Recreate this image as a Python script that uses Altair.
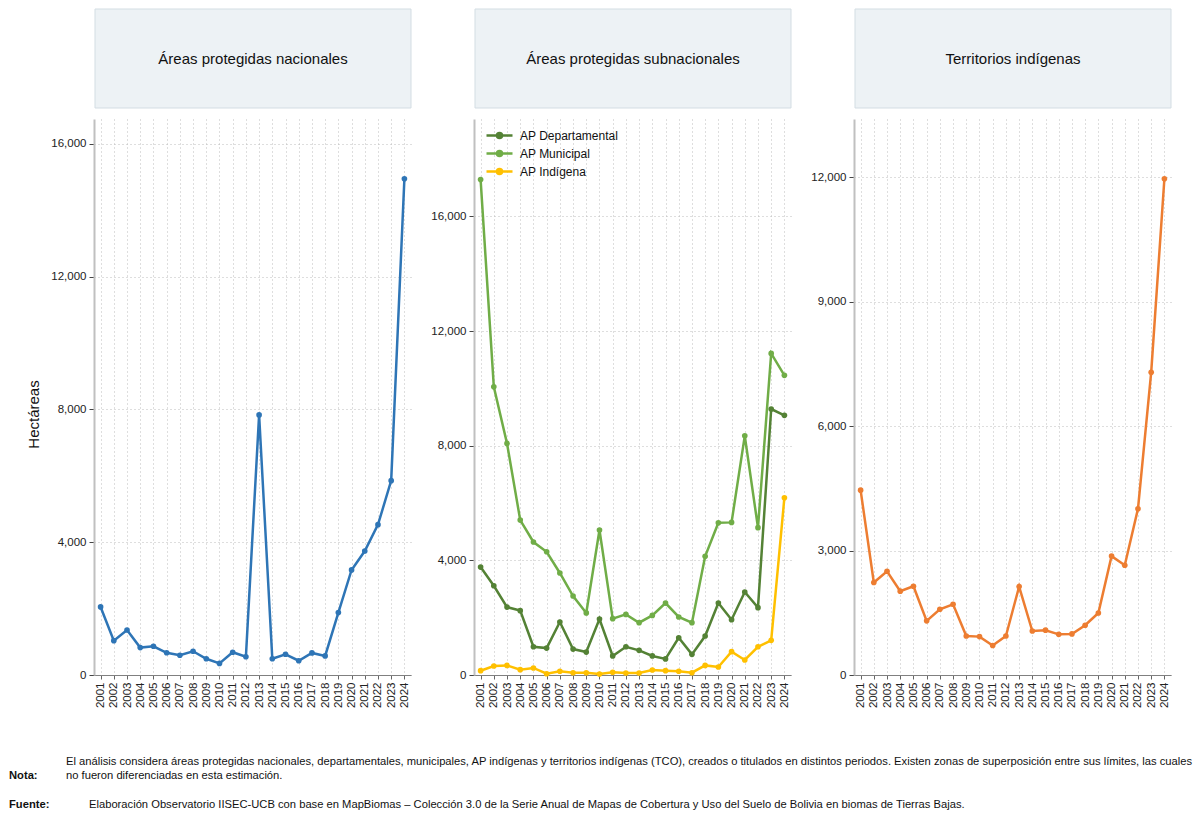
import altair as alt
import pandas as pd

years = [str(y) for y in range(2001, 2025)]
nacionales = [2050, 1035, 1355, 825, 865, 670, 595, 715, 490, 350, 685, 550,
              7835, 490, 625, 430, 665, 575, 1880, 3165, 3735, 4530, 5855, 14950]
departamental = [3765, 3115, 2370, 2245, 985, 940, 1850, 905, 800, 1955, 665, 985,
                 860, 665, 560, 1300, 720, 1360, 2510, 1930, 2895, 2350, 9280, 9060]
municipal = [17290, 10055, 8080, 5405, 4640, 4300, 3560, 2755, 2165, 5060, 1965, 2115,
             1825, 2080, 2510, 2025, 1825, 4140, 5310, 5325, 8345, 5140, 11220, 10455]
indigena = [150, 315, 335, 185, 245, 45, 130, 80, 80, 35, 95, 70,
            70, 175, 150, 130, 80, 335, 280, 815, 525, 985, 1210, 6185]
territorios = [4455, 2230, 2500, 2020, 2140, 1305, 1585, 1705, 940, 925, 710, 940,
               2130, 1060, 1080, 980, 990, 1200, 1495, 2865, 2645, 4005, 7295, 11960]

titles = ["Áreas protegidas nacionales", "Áreas protegidas subnacionales", "Territorios indígenas"]
series_names = ["AP Departamental", "AP Municipal", "AP Indígena"]
series_colors = ["#548235", "#70ad47", "#ffc000"]
color_nac = "#2e75b6"
color_ter = "#ed7d31"
y_title = "Hectáreas"
nota_label = "Nota:"
nota_lines = [
    "El análisis considera áreas protegidas nacionales, departamentales, municipales, AP indígenas y territorios indígenas (TCO), creados o titulados en distintos periodos. Existen zonas de superposición entre sus límites, las cuales",
    "no fueron diferenciadas en esta estimación.",
]
fuente_label = "Fuente:"
fuente_text = "Elaboración Observatorio IISEC-UCB con base en MapBiomas – Colección 3.0 de la Serie Anual de Mapas de Cobertura y Uso del Suelo de Bolivia en biomas de Tierras Bajas."

FONT = "Liberation Sans, Arial, sans-serif"
W, H = 317, 556
GRID = "#bdbdbd"


def x_enc():
    return alt.X(
        "year:O",
        sort=years,
        scale=alt.Scale(type="point", padding=0.5),
        axis=alt.Axis(
            title=None, labelAngle=-90, labelFont=FONT, labelFontSize=11.5,
            labelColor="#222", labelPadding=3, tickSize=4, tickColor="#666",
            domainColor="#808080", domainWidth=1, grid=True, gridColor=GRID,
            gridDash=[1, 3], gridWidth=1,
        ),
    )


def y_enc(ymax, vals, title=None):
    kw = dict(
        values=vals, format=",d", labelFont=FONT, labelFontSize=11.5, labelColor="#222",
        tickSize=5, tickColor="#444", domainColor="#c0c0c0", domainWidth=2,
        grid=True, gridColor=GRID, gridDash=[1, 3], gridWidth=1, labelPadding=3,
    )
    if title:
        kw.update(title=title, titleFont=FONT, titleFontSize=15, titleFontWeight="normal",
                  titleColor="#111", titleX=-61, titleY=295, titleBaseline="middle",
                  titleAlign="center")
    else:
        kw.update(title=None)
    return alt.Y("value:Q", scale=alt.Scale(domain=[0, ymax], nice=False, zero=True),
                 axis=alt.Axis(**kw))


def header(title):
    d = pd.DataFrame({"t": [title]})
    rect = alt.Chart(d).mark_rect(fill="#edf2f5", stroke="#d3dde3", strokeWidth=1).encode(
        x=alt.value(1), x2=alt.value(W), y=alt.value(-110), y2=alt.value(-11))
    txt = alt.Chart(d).mark_text(font=FONT, fontSize=15, color="#111", baseline="middle",
                                 align="center").encode(
        x=alt.value((W + 1) / 2), y=alt.value(-60), text="t:N")
    return [rect, txt]


def single_line(vals, color, ymax, ticks, title=None):
    df = pd.DataFrame({"year": years, "value": vals})
    return alt.Chart(df).mark_line(
        color=color, strokeWidth=2.5,
        point=alt.OverlayMarkDef(filled=True, size=32, color=color, opacity=1),
    ).encode(x=x_enc(), y=y_enc(ymax, ticks, title))


FOOT_FS = 11.2
# Panel 1
p1_line = single_line(nacionales, color_nac, 16750, [0, 4000, 8000, 12000, 16000], y_title)
foot_df = pd.DataFrame({"a": [0]})
foot = [
    alt.Chart(foot_df).mark_text(font=FONT, fontSize=FOOT_FS, fontWeight="bold", align="left",
                                 baseline="middle", color="#111").encode(
        x=alt.value(-85), y=alt.value(657), text=alt.value(nota_label)),
    alt.Chart(foot_df).mark_text(font=FONT, fontSize=FOOT_FS, align="left",
                                 baseline="middle", color="#111").encode(
        x=alt.value(-28), y=alt.value(643), text=alt.value(nota_lines[0])),
    alt.Chart(foot_df).mark_text(font=FONT, fontSize=FOOT_FS, align="left",
                                 baseline="middle", color="#111").encode(
        x=alt.value(-28), y=alt.value(657), text=alt.value(nota_lines[1])),
    alt.Chart(foot_df).mark_text(font=FONT, fontSize=FOOT_FS, fontWeight="bold", align="left",
                                 baseline="middle", color="#111").encode(
        x=alt.value(-85), y=alt.value(686), text=alt.value(fuente_label)),
    alt.Chart(foot_df).mark_text(font=FONT, fontSize=FOOT_FS, align="left",
                                 baseline="middle", color="#111").encode(
        x=alt.value(-5), y=alt.value(686), text=alt.value(fuente_text)),
]
p1 = alt.layer(*header(titles[0]), p1_line, *foot).properties(width=W, height=H)

# Panel 2
rows = []
for name, vals in zip(series_names, [departamental, municipal, indigena]):
    for yv, v in zip(years, vals):
        rows.append({"year": yv, "serie": name, "value": v})
df2 = pd.DataFrame(rows)
legend_symbol = ("M-2.6,0 L2.6,0 M-0.5,0 A0.5,0.5 0 1,1 0.5,0 A0.5,0.5 0 1,1 -0.5,0 "
                 "M-0.3,0 A0.3,0.3 0 1,1 0.3,0 A0.3,0.3 0 1,1 -0.3,0")
p2_lines = alt.Chart(df2).mark_line(
    strokeWidth=2.5, point=alt.OverlayMarkDef(filled=True, size=32, opacity=1),
).encode(
    x=x_enc(),
    y=y_enc(19400, [0, 4000, 8000, 12000, 16000]),
    color=alt.Color("serie:N", sort=series_names,
                    scale=alt.Scale(domain=series_names, range=series_colors),
                    legend=alt.Legend(
                        title=None, orient="none", legendX=19, legendY=10,
                        symbolType=legend_symbol, symbolSize=100, symbolStrokeWidth=2.5,
                        labelFont=FONT, labelFontSize=12, labelColor="#111",
                        labelOffset=14, rowPadding=3, padding=0,
                    )),
    order=alt.Order("serie:N"),
)
p2 = alt.layer(*header(titles[1]), p2_lines).properties(width=W, height=H)

# Panel 3
p3_line = single_line(territorios, color_ter, 13400, [0, 3000, 6000, 9000, 12000])
p3 = alt.layer(*header(titles[2]), p3_line).properties(width=W, height=H)

chart = alt.hconcat(p1, p2, p3, spacing=63, bounds="flush").resolve_scale(
    y="independent", color="independent"
).properties(
    padding={"left": 8, "top": 8, "right": 5, "bottom": 5},
    background="white",
).configure_view(stroke="transparent")

chart.save("out.html", embed_options={"renderer": "svg", "actions": False})
